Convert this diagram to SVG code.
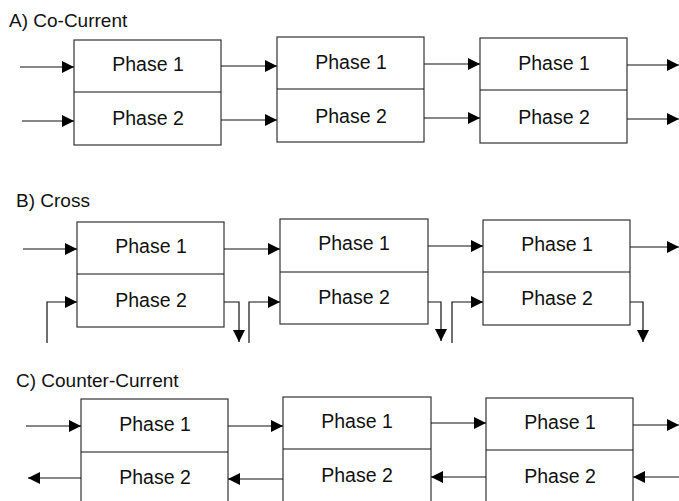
<svg xmlns="http://www.w3.org/2000/svg" width="679" height="501" viewBox="0 0 679 501">
  <style>
    .box { fill: #ffffff; stroke: #333333; stroke-width: 1.2; }
    .div { stroke: #111111; stroke-width: 1.2; }
    .lbl { font-family: "Liberation Sans", Arial, sans-serif; font-size: 19.5px; fill: #111111; text-anchor: middle; }
    .title { font-family: "Liberation Sans", Arial, sans-serif; font-size: 19px; fill: #111111; }
    .flow { fill: none; stroke: #111111; stroke-width: 1.2; marker-end: url(#head); }
  </style>
  <defs>
    <marker id="head" markerUnits="userSpaceOnUse" markerWidth="12" markerHeight="12" refX="12" refY="6" orient="auto">
      <path d="M0,0 L12,6 L0,12 z" fill="#000000"/>
    </marker>
  </defs>

  <!-- section titles -->
  <text class="title" x="9" y="27">A) Co-Current</text>
  <text class="title" x="16" y="207">B) Cross</text>
  <text class="title" x="16" y="387">C) Counter-Current</text>

  <!-- A) co-current stages -->
  <g id="a1">
    <rect class="box" x="74" y="40" width="147" height="105"/>
    <line class="div" x1="74" y1="92" x2="221" y2="92"/>
    <text class="lbl" x="148" y="71">Phase 1</text>
    <text class="lbl" x="148" y="125">Phase 2</text>
  </g>
  <g id="a2">
    <rect class="box" x="277" y="37" width="147" height="105"/>
    <line class="div" x1="277" y1="89" x2="424" y2="89"/>
    <text class="lbl" x="351" y="69">Phase 1</text>
    <text class="lbl" x="351" y="123">Phase 2</text>
  </g>
  <g id="a3">
    <rect class="box" x="480" y="38" width="147" height="105"/>
    <line class="div" x1="480" y1="90" x2="627" y2="90"/>
    <text class="lbl" x="554" y="70">Phase 1</text>
    <text class="lbl" x="554" y="124">Phase 2</text>
  </g>

  <!-- B) cross-current stages -->
  <g id="b1">
    <rect class="box" x="77" y="222" width="147" height="105"/>
    <line class="div" x1="77" y1="274" x2="224" y2="274"/>
    <text class="lbl" x="151" y="253">Phase 1</text>
    <text class="lbl" x="151" y="307">Phase 2</text>
  </g>
  <g id="b2">
    <rect class="box" x="280" y="219" width="148" height="105"/>
    <line class="div" x1="280" y1="272" x2="428" y2="272"/>
    <text class="lbl" x="354" y="250">Phase 1</text>
    <text class="lbl" x="354" y="304">Phase 2</text>
  </g>
  <g id="b3">
    <rect class="box" x="483" y="220" width="147" height="105"/>
    <line class="div" x1="483" y1="272" x2="630" y2="272"/>
    <text class="lbl" x="557" y="251">Phase 1</text>
    <text class="lbl" x="557" y="305">Phase 2</text>
  </g>

  <!-- C) counter-current stages -->
  <g id="c1">
    <rect class="box" x="81" y="399" width="147" height="110"/>
    <line class="div" x1="81" y1="452" x2="228" y2="452"/>
    <text class="lbl" x="155" y="431">Phase 1</text>
    <text class="lbl" x="155" y="484">Phase 2</text>
  </g>
  <g id="c2">
    <rect class="box" x="283" y="397" width="148" height="110"/>
    <line class="div" x1="283" y1="449" x2="431" y2="449"/>
    <text class="lbl" x="357" y="428">Phase 1</text>
    <text class="lbl" x="357" y="482">Phase 2</text>
  </g>
  <g id="c3">
    <rect class="box" x="486" y="398" width="147" height="110"/>
    <line class="div" x1="486" y1="450" x2="633" y2="450"/>
    <text class="lbl" x="560" y="429">Phase 1</text>
    <text class="lbl" x="560" y="483">Phase 2</text>
  </g>

  <!-- connectors -->
  <g id="connectors">
    <!-- A: both phases flow left to right -->
    <path class="flow" d="M20,67 H74"/>
    <path class="flow" d="M221,66 H277"/>
    <path class="flow" d="M424,64 H480"/>
    <path class="flow" d="M627,65 H679"/>
    <path class="flow" d="M22,121 H74"/>
    <path class="flow" d="M221,120 H277"/>
    <path class="flow" d="M424,118 H480"/>
    <path class="flow" d="M627,119 H679"/>

    <!-- B: phase 1 in series, phase 2 fed fresh to each stage -->
    <path class="flow" d="M23,249 H77"/>
    <path class="flow" d="M224,249 H280"/>
    <path class="flow" d="M428,246 H483"/>
    <path class="flow" d="M630,247 H679"/>
    <path class="flow" d="M47,343 V302 H77"/>
    <path class="flow" d="M249,343 V302 H280"/>
    <path class="flow" d="M452,343 V302 H483"/>
    <path class="flow" d="M224,302 H239 V342"/>
    <path class="flow" d="M428,302 H441 V341"/>
    <path class="flow" d="M630,302 H643 V342"/>

    <!-- C: phase 1 left to right, phase 2 right to left -->
    <path class="flow" d="M26,426 H81"/>
    <path class="flow" d="M228,426 H283"/>
    <path class="flow" d="M431,423 H486"/>
    <path class="flow" d="M633,425 H679"/>
    <path class="flow" d="M81,478 H28"/>
    <path class="flow" d="M283,479 H228"/>
    <path class="flow" d="M486,477 H431"/>
    <path class="flow" d="M679,477 H633"/>
  </g>
</svg>
